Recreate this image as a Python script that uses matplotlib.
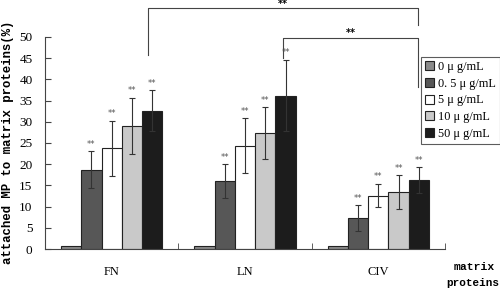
import numpy as np
import matplotlib
matplotlib.use("Agg")
import matplotlib.pyplot as plt

categories = ["FN", "LN", "CIV"]
doses = ["0 μ g/mL", "0. 5 μ g/mL", "5 μ g/mL", "10 μ g/mL", "50 μ g/mL"]
# attached MP (%) per dose, one list per matrix protein
means = {
    "FN": [0.7, 18.7, 23.8, 29.0, 32.6],
    "LN": [0.7, 16.0, 24.4, 27.3, 36.2],
    "CIV": [0.7, 7.3, 12.6, 13.4, 16.3],
}
errors = {
    "FN": [0.0, 4.3, 6.5, 6.7, 4.8],
    "LN": [0.0, 4.0, 6.4, 6.1, 8.4],
    "CIV": [0.0, 3.0, 2.8, 4.0, 3.0],
}
stars = [False, True, True, True, True]
yticks = [0, 5, 10, 15, 20, 25, 30, 35, 40, 45, 50]

colors = ["#8a8a8a", "#575757", "#ffffff", "#c9c9c9", "#1c1c1c"]

fig = plt.figure(figsize=(5, 2.91), dpi=100)
ax = fig.add_axes([0.09, 0.1443, 0.80, 0.7286])

x = np.arange(len(categories))
w = 0.152
for i, dose in enumerate(doses):
    off = (i - 2) * w
    vals = [means[c][i] for c in categories]
    errs = [errors[c][i] for c in categories]
    ax.bar(x + off, vals, w, color=colors[i], edgecolor="#222222",
           linewidth=0.8, label=dose, zorder=2)
    if i > 0:
        ax.errorbar(x + off, vals, yerr=errs, fmt="none", ecolor="#333333",
                    elinewidth=0.8, capsize=2.5, capthick=0.8, zorder=3)
    if stars[i]:
        for xi, v, e in zip(x + off, vals, errs):
            ax.text(xi, v + e + 0.6, "**", ha="center", va="bottom",
                    fontsize=6, color="#555555", family="DejaVu Sans")

ax.set_xlim(-0.5, 2.5)
ax.set_ylim(0, 50)
ax.set_yticks(yticks)
ax.set_xticks(x)
ax.set_xticklabels(categories, family="Liberation Serif", fontsize=9)
ax.set_xticks([-0.5, 0.5, 1.5, 2.5], minor=True)
ax.tick_params(axis="x", which="major", length=0, pad=12)
ax.tick_params(axis="x", which="minor", direction="in", length=4, color="#444444")
ax.tick_params(axis="y", direction="in", length=4, color="#444444", pad=9)
for lab in ax.get_yticklabels():
    lab.set_family("Liberation Serif")
    lab.set_fontsize(9.5)
ax.spines["top"].set_visible(False)
ax.spines["right"].set_visible(False)
ax.spines["left"].set_color("#444444")
ax.spines["bottom"].set_color("#444444")

# significance brackets between the 50 μg/mL bars
def bracket(x1, x2, ytop, yl, yr, ytext):
    ax.plot([x1, x1, x2, x2], [yl, ytop, ytop, yr], color="#444444",
            linewidth=0.8, clip_on=False)
    ax.text((x1 + x2) / 2, ytext, "**", ha="center", va="center",
            fontsize=7, fontweight="bold", family="DejaVu Sans")

bracket(0.273, 2.30, 56.8, 45.7, 52.8, 57.8)
bracket(1.285, 2.30, 49.8, 45.0, 38.2, 51.0)

ax.set_ylabel("attached MP to matrix proteins(%)", family="Liberation Mono",
              fontweight="bold", fontsize=8.9)
ax.yaxis.set_label_coords(-0.077, 0.505)

fig.text(0.908, 0.082, "matrix", family="Liberation Mono", fontweight="bold",
         fontsize=8.2, va="center", ha="left")
fig.text(0.893, 0.028, "proteins", family="Liberation Mono", fontweight="bold",
         fontsize=7.9, va="center", ha="left")

leg = ax.legend(loc="upper left", bbox_to_anchor=(0.94, 0.906), frameon=True,
                fancybox=False, edgecolor="#333333",
                handlelength=0.75, handleheight=0.75, handletextpad=0.3,
                borderpad=0.35, labelspacing=0.38, borderaxespad=0,
                prop={"family": "Liberation Serif", "size": 8.8})
leg.get_frame().set_linewidth(0.8)

fig.savefig("out.png", dpi=100)
